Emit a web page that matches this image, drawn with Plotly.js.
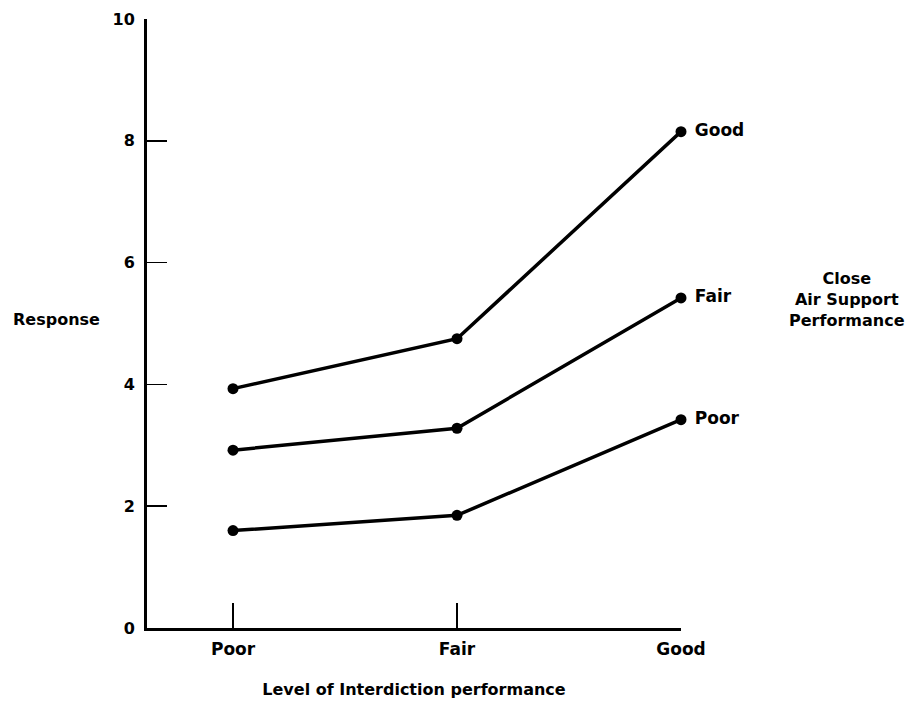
<!DOCTYPE html>
<html>
<head>
<meta charset="utf-8">
<script src="https://cdn.plot.ly/plotly-3.0.1.min.js"></script>
<style>html,body{margin:0;padding:0;background:#fff;}#chart{width:909px;height:704px;}</style>
</head>
<body>
<div id="chart"></div>
<script>
// Interdiction performance levels (x axis)
const interdictionLevels = ['Poor', 'Fair', 'Good'];
// Close air support performance series
const casLevels = ['Good', 'Fair', 'Poor'];
const responseGoodCAS = [3.93, 4.75, 8.15];
const responseFairCAS = [2.92, 3.28, 5.42];
const responsePoorCAS = [1.60, 1.85, 3.42];
const yTicks = [0, 2, 4, 6, 8, 10];

const FONT = 'DejaVu Sans, Liberation Sans, Arial, sans-serif';
const seriesValues = [responseGoodCAS, responseFairCAS, responsePoorCAS];

const traces = seriesValues.map((vals, i) => ({
  x: interdictionLevels,
  y: vals,
  type: 'scatter',
  mode: 'lines+markers+text',
  text: vals.map((v, j) => j === vals.length - 1 ? ' ' + casLevels[i] : ''),
  textposition: 'middle right',
  textfont: {family: FONT, size: 17, color: '#000', weight: 'bold'},
  line: {color: '#000', width: 3.5},
  marker: {color: '#000', size: 11},
  cliponaxis: false,
  showlegend: false,
  hoverinfo: 'x+y'
}));

const layout = {
  width: 909, height: 704,
  paper_bgcolor: '#fff', plot_bgcolor: '#fff',
  margin: {l: 147, r: 228, t: 19, b: 76},
  font: {family: FONT, size: 16, color: '#000', weight: 'bold'},
  xaxis: {
    type: 'category',
    range: [-0.384, 2],
    showgrid: false, zeroline: false,
    showline: true, linecolor: '#000', linewidth: 3,
    ticks: 'inside', ticklen: 25, tickwidth: 1.5, tickcolor: '#000',
    tickfont: {family: FONT, size: 17, color: '#000', weight: 'bold'},
    ticklabelstandoff: 4,
    title: {text: 'Level of Interdiction performance', standoff: 26,
            font: {family: FONT, size: 16, color: '#000', weight: 'bold'}}
  },
  yaxis: {
    range: [0, 10],
    tickvals: yTicks,
    showgrid: false, zeroline: false,
    showline: true, linecolor: '#000', linewidth: 3,
    ticks: 'inside', ticklen: 20, tickwidth: 1.5, tickcolor: '#000',
    tickfont: {family: FONT, size: 16, color: '#000', weight: 'bold'},
    ticklabelstandoff: 6
  },
  annotations: [
    {text: 'Response', xref: 'paper', yref: 'paper', x: -0.169, y: 0.506,
     xanchor: 'center', yanchor: 'middle', showarrow: false,
     font: {family: FONT, size: 16, color: '#000', weight: 'bold'}},
    {text: 'Close<br>Air Support<br>Performance', xref: 'paper', yref: 'paper',
     x: 1.311, y: 0.539, xanchor: 'center', yanchor: 'middle', showarrow: false,
     align: 'center',
     font: {family: FONT, size: 16, color: '#000', weight: 'bold'}}
  ]
};

Plotly.newPlot('chart', traces, layout, {displayModeBar: false, staticPlot: true});
</script>
</body>
</html>
